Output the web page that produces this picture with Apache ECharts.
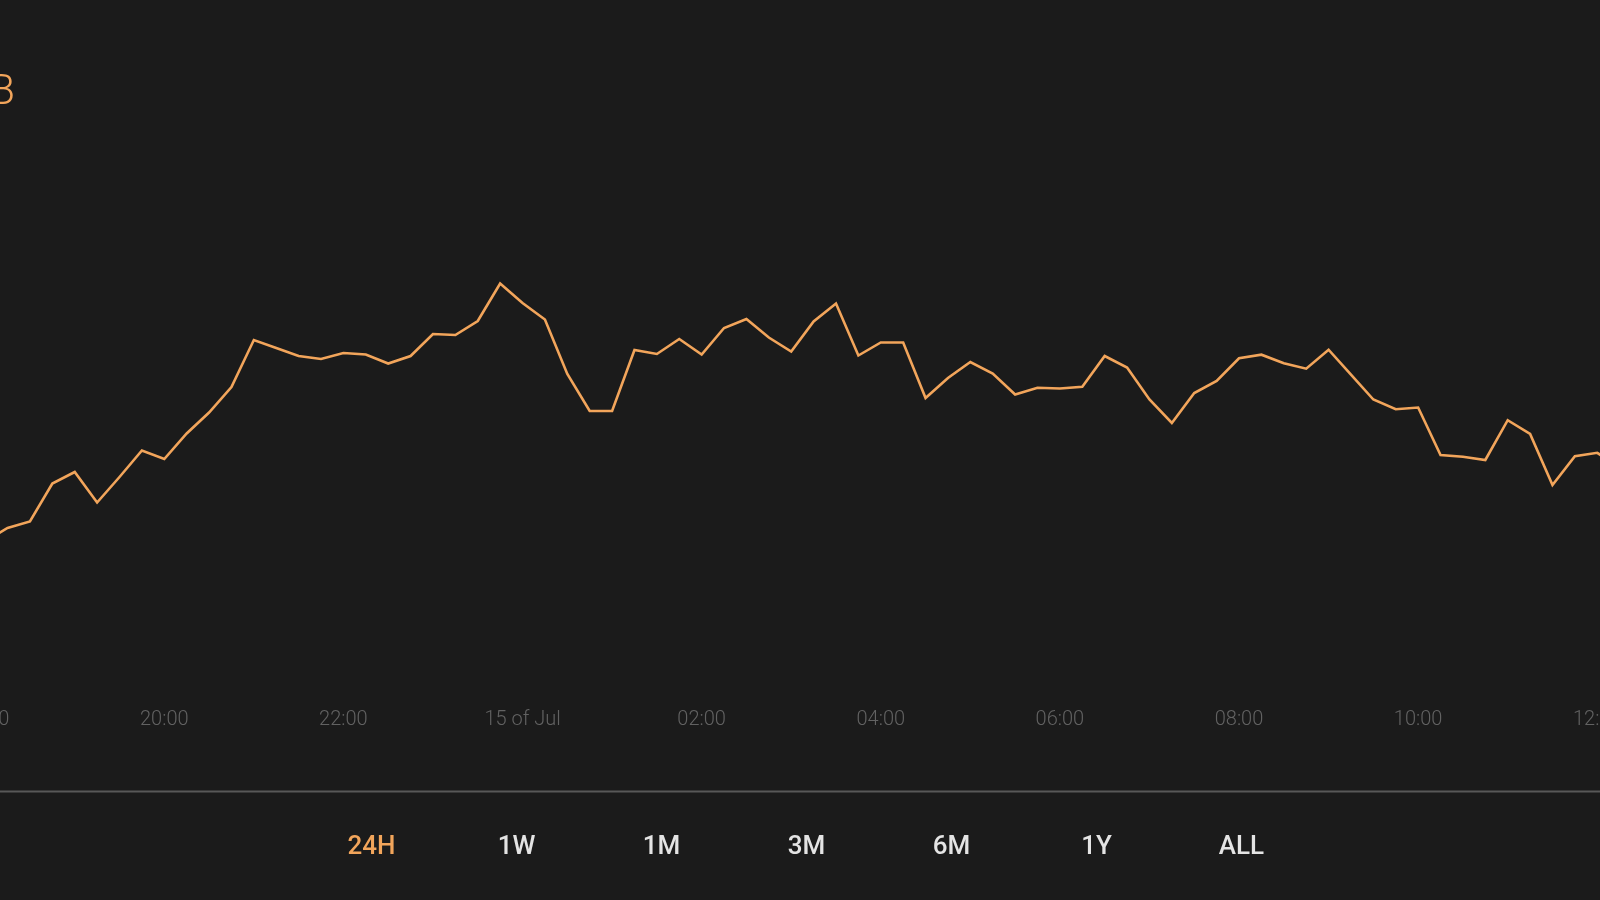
<!DOCTYPE html>
<html>
<head>
<meta charset="utf-8">
<style>
  html, body { margin: 0; padding: 0; background: #1b1b1b; }
  #chart { width: 1600px; height: 900px; }
</style>
<script src="https://cdn.jsdelivr.net/npm/echarts@6/dist/echarts.min.js"></script>
</head>
<body>
<div id="chart"></div>
<script>
// 15-minute steps, 14 Jul 18:00 -> 15 Jul 12:15
const categories = [
  '18:00','18:15','18:30','18:45','19:00','19:15','19:30','19:45',
  '20:00','20:15','20:30','20:45','21:00','21:15','21:30','21:45',
  '22:00','22:15','22:30','22:45','23:00','23:15','23:30','23:45',
  '00:00','00:15','00:30','00:45','01:00','01:15','01:30','01:45',
  '02:00','02:15','02:30','02:45','03:00','03:15','03:30','03:45',
  '04:00','04:15','04:30','04:45','05:00','05:15','05:30','05:45',
  '06:00','06:15','06:30','06:45','07:00','07:15','07:30','07:45',
  '08:00','08:15','08:30','08:45','09:00','09:15','09:30','09:45',
  '10:00','10:15','10:30','10:45','11:00','11:15','11:30','11:45',
  '12:00','12:15'
];
// values (relative units)
const values = [
  159, 172, 178.5, 216.5, 228, 197.5, 223, 249.5,
  241, 266.5, 287.5, 313, 360, 352, 344, 341,
  347, 345.5, 336.5, 344, 366, 365, 379, 416.5,
  397, 380.5, 326, 289, 289, 350, 346, 361,
  345.5, 372, 381, 362.5, 348.5, 378.5, 396.5, 344.5,
  357.5, 357.5, 302, 322, 338, 326.5, 305.5, 312.3,
  311.5, 313.3, 344, 332.5, 300.5, 277, 307, 319,
  341.7, 345.3, 336.7, 331.3, 350.3, 325.3, 300.5, 290.7,
  292.5, 245, 243.2, 240, 279.8, 266, 215, 243.7,
  247.2, 232
];
const dayLabels = { '00:00': '15 of Jul' };
const rangeButtons = ['24H', '1W', '1M', '3M', '6M', '1Y', 'ALL'];
const activeButton = '24H';
const headerText = 'B';

const ORANGE = '#f2a55b';
const chart = echarts.init(document.getElementById('chart'), null, { renderer: 'canvas' });

const buttonGraphics = rangeButtons.map((b, i) => ({
  type: 'text',
  x: 371.5 + 145 * i,
  y: 847,
  style: {
    text: b,
    fill: b === activeButton ? ORANGE : '#e4e4e4',
    font: '500 26px Roboto',
    textAlign: 'center',
    textVerticalAlign: 'middle'
  }
}));

chart.setOption({
  backgroundColor: '#1b1b1b',
  animation: false,
  grid: {
    left: -14.84, right: -19.66, top: 100, bottom: 200,
    containLabel: false,
    outerBoundsMode: 'none'
  },
  xAxis: {
    type: 'category',
    data: categories,
    boundaryGap: false,
    axisLine: { show: false },
    axisTick: { show: false },
    splitLine: { show: false },
    axisLabel: {
      interval: 7,
      margin: 10,
      color: '#626262',
      fontSize: 20,
      fontFamily: 'Roboto',
      fontWeight: 300,
      hideOverlap: false,
      formatter: v => dayLabels[v] || v
    }
  },
  yAxis: {
    type: 'value',
    min: 0,
    max: 600,
    show: false
  },
  series: [{
    type: 'line',
    data: values,
    showSymbol: false,
    symbol: 'none',
    lineStyle: { color: ORANGE, width: 2.6, join: 'miter' }
  }],
  graphic: [
    {
      type: 'text',
      x: 15,
      y: 93,
      style: {
        text: headerText,
        fill: ORANGE,
        font: '300 42px Roboto',
        textAlign: 'right',
        textVerticalAlign: 'middle'
      }
    },
    {
      type: 'line',
      shape: { x1: 0, y1: 791.5, x2: 1600, y2: 791.5 },
      style: { stroke: '#585858', lineWidth: 2 }
    }
  ].concat(buttonGraphics)
});
</script>
</body>
</html>
